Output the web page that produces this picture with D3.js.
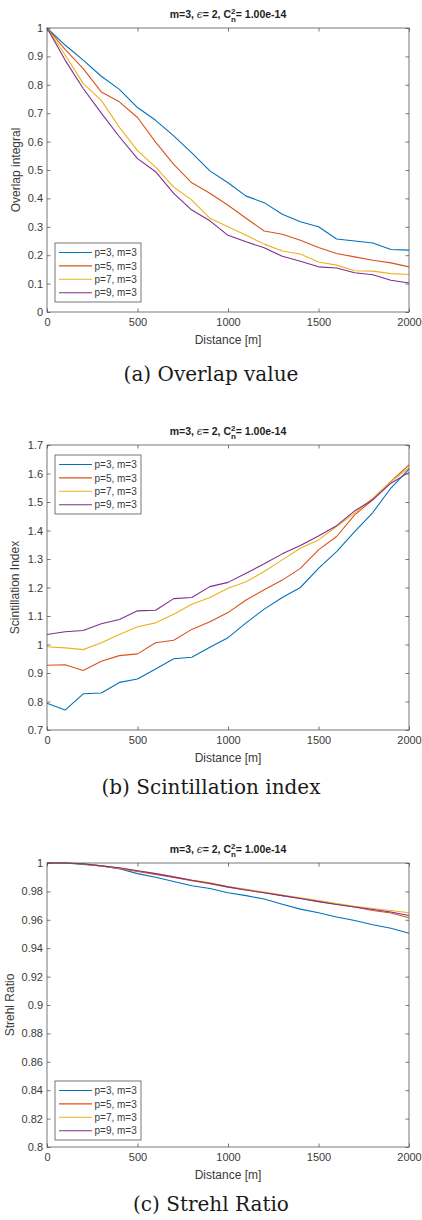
<!DOCTYPE html>
<html lang="en">
<head>
<meta charset="utf-8">
<title>Overlap, scintillation and Strehl ratio vs distance</title>
<script src="https://cdn.jsdelivr.net/npm/d3@7"></script>
<style>
  body { margin: 0; background: #fff; }
  svg { display: block; font-family: "Liberation Sans", Arial, sans-serif; }
  .axis path { display: none; }
  .axis line { stroke: #555; stroke-width: 0.8px; }
  .axis text { fill: #3a3a3a; font-size: 11px; }
  .box { fill: none; stroke: #555; stroke-width: 0.8px; }
  .series { fill: none; stroke-width: 1.1px; stroke-linejoin: round; }
</style>
</head>
<body>
<div id="chart"></div>
<script>
  // distance samples [m]
  var distance = [0, 100, 200, 300, 400, 500, 600, 700, 800, 900, 1000,
                  1100, 1200, 1300, 1400, 1500, 1600, 1700, 1800, 1900, 2000];

  var seriesNames = ["p=3, m=3", "p=5, m=3", "p=7, m=3", "p=9, m=3"];
  var colors = ["#0072BD", "#D95319", "#EDB120", "#7E2F8E"];

  // (a) overlap integral
  var overlapP3 = [1, 0.94, 0.887, 0.83, 0.784, 0.72, 0.675, 0.62, 0.56, 0.497, 0.455,
                   0.408, 0.385, 0.344, 0.318, 0.30, 0.257, 0.25, 0.243, 0.22, 0.218];
  var overlapP5 = [1, 0.925, 0.857, 0.775, 0.74, 0.685, 0.598, 0.52, 0.455, 0.418, 0.376,
                   0.33, 0.285, 0.274, 0.253, 0.227, 0.206, 0.194, 0.182, 0.173, 0.159];
  var overlapP7 = [1, 0.905, 0.805, 0.745, 0.65, 0.568, 0.51, 0.44, 0.394, 0.33, 0.30,
                   0.27, 0.239, 0.215, 0.204, 0.176, 0.165, 0.145, 0.144, 0.135, 0.132];
  var overlapP9 = [1, 0.887, 0.787, 0.70, 0.617, 0.54, 0.494, 0.418, 0.359, 0.321, 0.27,
                   0.247, 0.226, 0.196, 0.179, 0.159, 0.155, 0.138, 0.131, 0.112, 0.102];

  // (b) scintillation index
  var scintP3 = [0.794, 0.77, 0.827, 0.83, 0.867, 0.879, 0.914, 0.95, 0.955, 0.99, 1.024,
                 1.076, 1.124, 1.165, 1.2, 1.267, 1.326, 1.396, 1.463, 1.549, 1.615];
  var scintP5 = [0.927, 0.929, 0.909, 0.941, 0.961, 0.967, 1.006, 1.015, 1.053, 1.08, 1.112,
                 1.156, 1.192, 1.226, 1.267, 1.332, 1.379, 1.455, 1.508, 1.572, 1.63];
  var scintP7 = [0.992, 0.988, 0.982, 1.006, 1.035, 1.062, 1.076, 1.106, 1.141, 1.165, 1.197,
                 1.22, 1.256, 1.297, 1.338, 1.367, 1.414, 1.461, 1.513, 1.572, 1.62];
  var scintP9 = [1.035, 1.045, 1.049, 1.073, 1.088, 1.118, 1.12, 1.161, 1.165, 1.203, 1.218,
                 1.25, 1.283, 1.318, 1.347, 1.381, 1.417, 1.469, 1.508, 1.566, 1.604];

  // (c) Strehl ratio
  var strehlP3 = [1, 1, 0.999, 0.998, 0.996, 0.9925, 0.990, 0.987, 0.984, 0.982, 0.979,
                  0.977, 0.9746, 0.971, 0.9675, 0.965, 0.962, 0.9595, 0.9565, 0.954, 0.9505];
  var strehlP5 = [1, 1, 0.9993, 0.998, 0.996, 0.994, 0.992, 0.9898, 0.9875, 0.9855, 0.983,
                  0.981, 0.979, 0.977, 0.975, 0.973, 0.971, 0.969, 0.9665, 0.9648, 0.9615];
  var strehlP7 = [1, 1, 0.9995, 0.998, 0.9965, 0.9945, 0.9925, 0.9903, 0.988, 0.986, 0.9835,
                  0.9815, 0.9795, 0.9775, 0.9755, 0.9735, 0.9715, 0.9695, 0.968, 0.9665, 0.965];
  var strehlP9 = [1, 1, 0.9995, 0.998, 0.9966, 0.9945, 0.9925, 0.9902, 0.9878, 0.9857, 0.9832,
                  0.981, 0.979, 0.977, 0.975, 0.9728, 0.9708, 0.969, 0.9672, 0.9655, 0.963];

  var xTicks = [0, 500, 1000, 1500, 2000];
  var overlapTicks = [0, 0.1, 0.2, 0.3, 0.4, 0.5, 0.6, 0.7, 0.8, 0.9, 1];
  var scintTicks = [0.7, 0.8, 0.9, 1, 1.1, 1.2, 1.3, 1.4, 1.5, 1.6, 1.7];
  var strehlTicks = [0.8, 0.82, 0.84, 0.86, 0.88, 0.9, 0.92, 0.94, 0.96, 0.98, 1];

  var W = 422, H = 1220;
  var left = 47, right = 409;

  var panels = [
    { top: 28, bottom: 312, series: [overlapP3, overlapP5, overlapP7, overlapP9],
      yDomain: [0, 1], yTicks: overlapTicks, ylabel: "Overlap integral", ylabelX: 16,
      legendTop: 243, caption: "(a) Overlap value", captionY: 381 },
    { top: 445, bottom: 730, series: [scintP3, scintP5, scintP7, scintP9],
      yDomain: [0.7, 1.7], yTicks: scintTicks, ylabel: "Scintillation Index", ylabelX: 15,
      legendTop: 455, caption: "(b) Scintillation index", captionY: 794 },
    { top: 863, bottom: 1147, series: [strehlP3, strehlP5, strehlP7, strehlP9],
      yDomain: [0.8, 1], yTicks: strehlTicks, ylabel: "Strehl Ratio", ylabelX: 10,
      legendTop: 1081, caption: "(c) Strehl Ratio", captionY: 1211 }
  ];

  var svg = d3.select("#chart").append("svg")
    .attr("width", W)
    .attr("height", H);

  var x = d3.scaleLinear().domain([0, 2000]).range([left, right]);
  var fmt = function (v) { return String(+v.toFixed(2)); };
  var tick = 3.5;

  panels.forEach(function (p) {
    var y = d3.scaleLinear().domain(p.yDomain).range([p.bottom, p.top]);
    var g = svg.append("g");

    // data lines
    var line = d3.line()
      .x(function (d, i) { return x(distance[i]); })
      .y(function (d) { return y(d); });

    p.series.forEach(function (s, k) {
      g.append("path")
        .attr("class", "series")
        .attr("stroke", colors[k])
        .attr("d", line(s));
    });

    // axes, ticks pointing inward on all four sides
    g.append("g").attr("class", "axis")
      .attr("transform", "translate(0," + p.bottom + ")")
      .call(d3.axisBottom(x).tickValues(xTicks).tickSizeInner(-tick).tickSizeOuter(0)
        .tickPadding(6).tickFormat(d3.format("d")));
    g.append("g").attr("class", "axis")
      .attr("transform", "translate(0," + p.top + ")")
      .call(d3.axisTop(x).tickValues(xTicks).tickSizeInner(-tick).tickSizeOuter(0)
        .tickFormat(""));
    g.append("g").attr("class", "axis")
      .attr("transform", "translate(" + left + ",0)")
      .call(d3.axisLeft(y).tickValues(p.yTicks).tickSizeInner(-tick).tickSizeOuter(0)
        .tickPadding(4).tickFormat(fmt));
    g.append("g").attr("class", "axis")
      .attr("transform", "translate(" + right + ",0)")
      .call(d3.axisRight(y).tickValues(p.yTicks).tickSizeInner(-tick).tickSizeOuter(0)
        .tickFormat(""));

    g.append("rect").attr("class", "box")
      .attr("x", left).attr("y", p.top)
      .attr("width", right - left).attr("height", p.bottom - p.top);

    // title
    var cx = (left + right) / 2;
    var t = g.append("text")
      .attr("x", cx).attr("y", p.top - 10)
      .attr("text-anchor", "middle")
      .attr("font-size", 10.5).attr("font-weight", "bold").attr("fill", "#222");
    t.append("tspan").text("m=3, ");
    t.append("tspan").attr("font-style", "italic").attr("font-weight", "normal")
      .attr("font-family", "DejaVu Serif, serif").text("\u03f5");
    t.append("tspan").text("= 2, C");
    t.append("tspan").attr("font-size", 8).attr("dy", -4.5).text("2");
    t.append("tspan").attr("font-size", 8).attr("dx", -4.6).attr("dy", 8).text("n");
    t.append("tspan").attr("dy", -3.5).text("= 1.00e-14");

    // axis labels
    g.append("text")
      .attr("x", cx).attr("y", p.bottom + 32)
      .attr("text-anchor", "middle").attr("font-size", 12).attr("fill", "#3a3a3a")
      .text("Distance [m]");
    g.append("text")
      .attr("transform", "translate(" + (p.ylabelX + 4) + "," + ((p.top + p.bottom) / 2) + ") rotate(-90)")
      .attr("text-anchor", "middle").attr("font-size", 12).attr("fill", "#3a3a3a")
      .text(p.ylabel);

    // legend
    var lg = g.append("g").attr("transform", "translate(55," + p.legendTop + ")");
    lg.append("rect")
      .attr("width", 86).attr("height", 59)
      .attr("fill", "#fff").attr("stroke", "#555").attr("stroke-width", 0.8);
    seriesNames.forEach(function (name, k) {
      var ly = 9.5 + k * 13.4;
      lg.append("line")
        .attr("x1", 4).attr("x2", 37).attr("y1", ly).attr("y2", ly)
        .attr("stroke", colors[k]).attr("stroke-width", 1.1);
      lg.append("text")
        .attr("x", 39.5).attr("y", ly + 3.6)
        .attr("font-size", 10).attr("fill", "#3a3a3a")
        .text(name);
    });

    // caption
    svg.append("text")
      .attr("x", W / 2).attr("y", p.captionY)
      .attr("text-anchor", "middle")
      .attr("font-family", "DejaVu Serif, serif")
      .attr("font-size", 20).attr("fill", "#1a1a1a")
      .text(p.caption);
  });
</script>
</body>
</html>
